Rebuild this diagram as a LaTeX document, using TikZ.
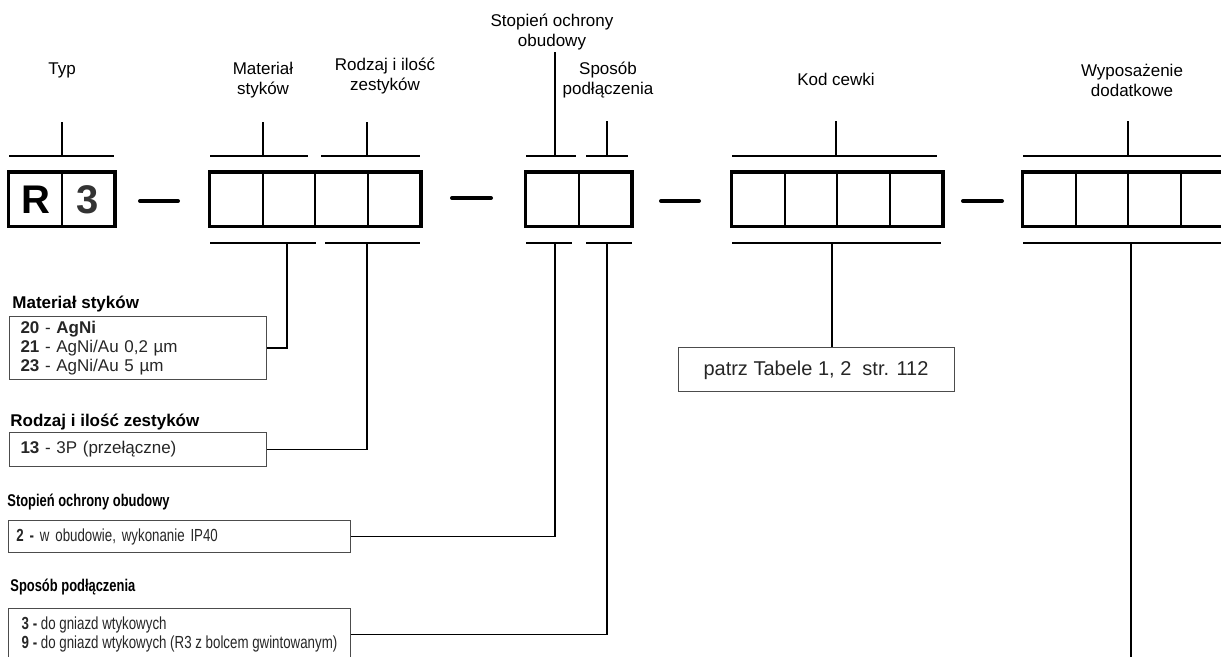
\documentclass[tikz,border=0pt]{standalone}
\usepackage{fontspec}
\setmainfont{Liberation Sans}
\newfontfamily\narrowsans{Liberation Sans}[FakeStretch=0.76]

\begin{document}
\begin{tikzpicture}
  [x=0.5pt, y=-0.5pt,
  font=\fontsize{8.5}{10}\selectfont,
  komorka/.style={
    draw=black,
    rectangle,
    line width=1pt,
    minimum width=26.25pt,
    minimum height=26.5pt,
    inner sep=0pt}, ramka/.style={
    line width=1.5pt}, klamra/.style={
    line width=0.6pt}, laczenie/.style={
    line width=0.9pt}, kreska/.style={
    line width=2pt,
    line cap=round}, opis/.style={
    align=center}, tytul/.style={
    anchor=west,
    inner sep=0pt,
    font=\fontsize{8.5}{10}\selectfont\bfseries}, opcje/.style={
    draw=black!70,
    rectangle,
    line width=0.5pt,
    anchor=north west,
    align=left,
    inner xsep=5.5pt,
    inner ysep=0pt,
    text=black!85,
    font=\fontsize{8.5}{9.5}\selectfont}]

  \useasboundingbox (0,0) rectangle (1221,657);
  \clip (0,0) rectangle (1221,657);

  % opisy nad polami
  \node [opis] at (62,70) (typ-opis) {Typ};
  \node [opis] at (263,80) (mat-opis) {Materiał\\styków};
  \node [opis] at (385,76) (rodz-opis) {Rodzaj i ilość\\zestyków};
  \node [opis] at (552,32) (stop-opis) {Stopień ochrony\\obudowy};
  \node [opis] at (608,80) (spos-opis) {Sposób\\podłączenia};
  \node [opis] at (836,79) (kod-opis) {Kod cewki};
  \node [opis] at (1132,80) (wyp-opis) {Wyposażenie\\dodatkowe};

  % pola oznaczenia
  \node [komorka, font=\fontsize{20}{24}\selectfont\bfseries] at (35.5,199.5) (r) {R};
  \node [komorka, font=\fontsize{20}{24}\selectfont\bfseries, text=black!80] at (88,199.5) (trzy) {3};

  \node [komorka] at (236.25,199.5) (m1) {};
  \node [komorka] at (288.75,199.5) (m2) {};
  \node [komorka] at (341.25,199.5) (z1) {};
  \node [komorka] at (393.75,199.5) (z2) {};

  \node [komorka] at (552.25,199.5) (s1) {};
  \node [komorka] at (604.75,199.5) (s2) {};

  \node [komorka] at (758.25,199.5) (k1) {};
  \node [komorka] at (810.75,199.5) (k2) {};
  \node [komorka] at (863.25,199.5) (k3) {};
  \node [komorka] at (915.75,199.5) (k4) {};

  \node [komorka] at (1049.25,199.5) (w1) {};
  \node [komorka] at (1101.75,199.5) (w2) {};
  \node [komorka] at (1154.25,199.5) (w3) {};
  \node [komorka] at (1206.75,199.5) (w4) {};

  \draw [ramka] (r.north west) rectangle (trzy.south east);
  \draw [ramka] (m1.north west) rectangle (z2.south east);
  \draw [ramka] (s1.north west) rectangle (s2.south east);
  \draw [ramka] (k1.north west) rectangle (k4.south east);
  \draw [ramka] (w1.north west) rectangle (w4.south east);

  % kreski
  \draw [kreska] (140,201) -- (178,201);
  \draw [kreska] (452,198) -- (491,198);
  \draw [kreska] (661,201) -- (699,201);
  \draw [kreska] (963,201) -- (1002,201);

  % klamry gorne
  \draw [klamra] (9,156) -- (114,156) (62,156) -- (62,122);
  \draw [klamra] (210,156) -- (308,156) (263,156) -- (263,122);
  \draw [klamra] (321,156) -- (420,156) (367,156) -- (367,122);
  \draw [klamra] (526,156) -- (576,156) (555,156) -- (555,52);
  \draw [klamra] (586,156) -- (628,156) (607,156) -- (607,121);
  \draw [klamra] (732,156) -- (937,156) (836,156) -- (836,121);
  \draw [klamra] (1023,156) -- (1221,156) (1128,156) -- (1128,121);

  % klamry dolne
  \draw [klamra] (210,243) -- (316,243);
  \draw [klamra] (325,243) -- (420,243);
  \draw [klamra] (526,243) -- (572,243);
  \draw [klamra] (586,243) -- (632,243);
  \draw [klamra] (732,243) -- (941,243);
  \draw [klamra] (1023,243) -- (1221,243);

  \coordinate (mat-k) at (287,243);
  \coordinate (rodz-k) at (367,243);
  \coordinate (stop-k) at (555,243);
  \coordinate (spos-k) at (607,243);
  \coordinate (kod-k) at (832,243);
  \coordinate (wyp-k) at (1131,243);
  \coordinate (wyp-dol) at (1131,657);

  % objasnienia
  \node [tytul] at (12,304) (mat-tytul) {Materiał styków};
  \node [opcje, minimum height=31.5pt, text width=117.5pt] at (9,316) (mat) {
    \textbf{20} - \textbf{AgNi}\\
    \textbf{21} - AgNi/Au 0,2 µm\\
    \textbf{23} - AgNi/Au 5 µm};

  \node [tytul] at (10,422) (rodz-tytul) {Rodzaj i ilość zestyków};
  \node [opcje, minimum height=17pt, text width=117.5pt] at (9,432) (rodz) {
    \textbf{13} - 3P (przełączne)};

  \node [tytul, font=\narrowsans\fontsize{8.5}{10}\selectfont\bfseries] at (7,502) (stop-tytul) {Stopień ochrony obudowy};
  \node [opcje, minimum height=16pt, text width=163pt, inner xsep=4pt,
    font=\narrowsans\fontsize{8.75}{9.5}\selectfont] at (8,520) (stop) {
    \textbf{2 -} w obudowie, wykonanie IP40};

  \node [tytul, font=\narrowsans\fontsize{8.5}{10}\selectfont\bfseries] at (10,587) (spos-tytul) {Sposób podłączenia};
  \node [opcje, minimum height=26pt, minimum width=171pt, inner xsep=0pt,
    font=\narrowsans\fontsize{8.75}{9.5}\selectfont] at (8,608) (spos) {
    \textbf{3 -} do gniazd wtykowych\\
    \textbf{9 -} do gniazd wtykowych (R3 z bolcem gwintowanym)};

  \node [draw=black!70, line width=0.5pt, minimum width=138pt, minimum height=22pt,
    text=black!85, font=\fontsize{10}{12}\selectfont] at (816,370) (patrz) {patrz Tabele 1, 2 \ str. 112};

  % polaczenia
  \draw [laczenie] (mat.east) -| (mat-k);
  \draw [laczenie] (rodz.east) -| (rodz-k);
  \draw [laczenie] (stop.east) -| (stop-k);
  \draw [laczenie] (spos.east) -| (spos-k);
  \draw [laczenie] (kod-k) -- (kod-k |- patrz.north);
  \draw [laczenie] (wyp-k) -- (wyp-dol);
\end{tikzpicture}
\end{document}
